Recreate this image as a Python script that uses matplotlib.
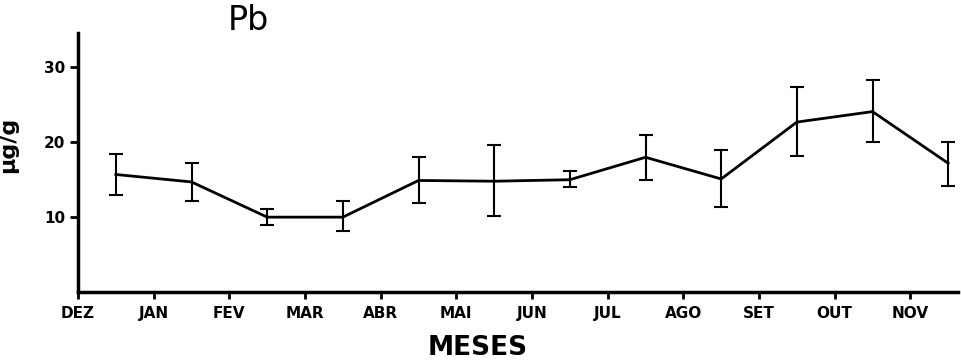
import numpy as np
import matplotlib
matplotlib.use('Agg')
from matplotlib import pyplot as plt

months = ['DEZ', 'JAN', 'FEV', 'MAR', 'ABR', 'MAI', 'JUN', 'JUL', 'AGO', 'SET', 'OUT', 'NOV']
# samples taken mid-month: position 0.5 = between DEZ and JAN
x_pos = [0.5, 1.5, 2.5, 3.5, 4.5, 5.5, 6.5, 7.5, 8.5, 9.5, 10.5, 11.5]
pb_mean = [15.7, 14.7, 10.0, 10.0, 14.9, 14.8, 15.0, 18.0, 15.1, 22.7, 24.1, 17.2]
err_top = [18.4, 17.2, 11.1, 12.1, 18.1, 19.6, 16.1, 21.0, 19.0, 27.4, 28.3, 20.1]
err_bot = [12.9, 12.1, 8.9, 8.1, 11.9, 10.1, 14.0, 15.0, 11.4, 18.2, 20.1, 14.2]

mean = np.array(pb_mean)
lower = mean - np.array(err_bot)
upper = np.array(err_top) - mean

fig = plt.figure(figsize=(9.61, 3.6), dpi=100)
ax = fig.add_axes([0.0812, 0.1889, 0.9157, 0.7194])

ax.errorbar(x_pos, mean, yerr=[lower, upper], color='black', lw=2.0,
            elinewidth=1.5, capsize=4.7, capthick=1.5)

ax.set_xlim(0, 11.63)
ax.set_ylim(0, 34.6)
ax.set_xticks(range(len(months)))
ax.set_xticklabels(months, fontsize=11, fontweight='bold')
ax.set_yticks([10, 20, 30])
ax.set_yticklabels(['10', '20', '30'], fontsize=11, fontweight='bold')
ax.tick_params(axis='x', direction='out', length=5, width=2, pad=5)
ax.tick_params(axis='y', direction='out', length=6, width=2, pad=3)

for s in ['top', 'right']:
    ax.spines[s].set_visible(False)
for s in ['left', 'bottom']:
    ax.spines[s].set_linewidth(2.5)

ax.set_xlabel('MESES', fontsize=19, fontweight='bold')
ax.xaxis.set_label_coords(0.4545, -0.165)
ax.set_ylabel('µg/g', fontsize=16, fontweight='bold')
ax.yaxis.set_label_coords(-0.068, 0.57)

fig.text(248/961, 1 - 20/360, 'Pb', fontsize=24, ha='center', va='center')

fig.savefig('out.png', dpi=100)
